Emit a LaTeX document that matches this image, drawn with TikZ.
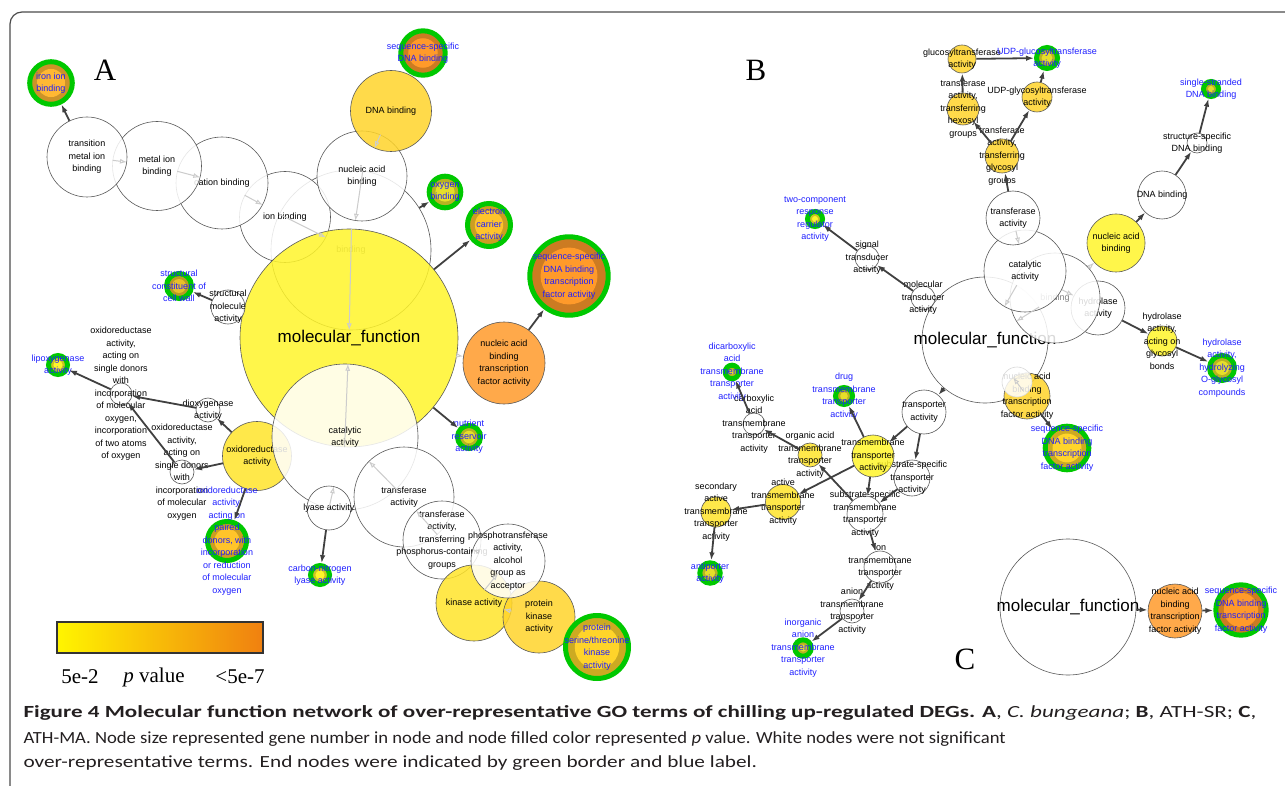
\documentclass[tikz,border=0pt]{standalone}
\usepackage{graphicx}
\usepackage{fontspec}
\setmainfont{Liberation Sans}
\newfontfamily\serifA{Liberation Serif}
\newfontfamily\legende{Carlito}
\usetikzlibrary{arrows.meta,calc}
\definecolor{jaune}{HTML}{FFF52A}
\definecolor{jauneor}{HTML}{FFE42A}
\definecolor{dore}{HTML}{FFD42A}
\definecolor{orangeA}{HTML}{FF9A2A}
\definecolor{orjaune}{HTML}{FFB833}
\definecolor{olive}{HTML}{E6DE2A}
\definecolor{cuivre}{HTML}{E8C02A}
\definecolor{ambre}{HTML}{FFC42A}
\definecolor{vert}{HTML}{00C800}
\definecolor{bleu}{HTML}{1E1EFF}
\definecolor{fonce}{HTML}{404040}
\definecolor{texte}{HTML}{231F20}
\newcommand\etiq{\fontsize{9}{12.5}\selectfont}
\newcommand\grand{\fontsize{17}{20}\selectfont}

\begin{document}
\begin{tikzpicture}[x=1pt,y=-1pt]
\tikzset{noeud/.style={circle, draw=gray!70!black, line width=0.6pt, fill=white, fill opacity=0.85, inner sep=0pt},
  noeudfin/.style={circle, draw=vert, line width=5pt, fill=#1!80!black, inner sep=0pt,
    path picture={\fill[#1] let \p1=(path picture bounding box.east), \p2=(path picture bounding box.center) in (\p2) circle[radius={max(0.8*(\x1-\x2)-3,2)}];}},
  every label/.style={font=\etiq, align=center, inner sep=0pt, text opacity=1, fill opacity=1},
  fin/.style={text=bleu},
  fleche/.style={draw=fonce, line width=1.8pt, -{Latex[length=8pt,width=5.5pt]}},
  flechepale/.style={draw=gray!40, line width=1pt, -{Latex[open,length=7pt,width=5pt]}}}
\useasboundingbox (0,0) rectangle (1285,786);
\clip (0,0) rectangle (1285,786);
\draw[gray!60!black, line width=1.2pt, rounded corners=12pt] (10,12) rectangle (1300,800);

% A
\node[font=\serifA\fontsize{31}{31}\selectfont] (LA) at (105,70) {A};
\node[noeud, minimum size=160pt, label={[text=gray]center:binding}] (A1) at (351,250) {};
\node[noeud, minimum size=91pt, label={center:ion binding}] (A2) at (285,217) {};
\node[noeud, minimum size=92pt, label={center:cation binding}] (A3) at (222,183) {};
\node[noeud, minimum size=89pt, label={center:{metal ion\\binding}}] (A4) at (157,166) {};
\node[noeud, minimum size=80pt, label={center:{transition\\metal ion\\binding}}] (A5) at (87,157) {};
\node[noeudfin=orjaune, minimum size=42.6pt, label={[fin]center:{iron ion\\binding}}] (A6) at (51,83) {};
\node[noeud, minimum size=90pt, label={center:{nucleic acid\\binding}}] (A7) at (362,176) {};
\node[noeud, fill=dore, minimum size=81pt, label={center:DNA binding}] (A8) at (391,111) {};
\node[noeudfin=orangeA, minimum size=44.4pt, label={[fin]center:{sequence-specific\\DNA binding}}] (A9) at (423,53) {};
\node[noeud, fill=jaune, minimum size=218pt, label={[font=\grand]center:molecular\_function}] (A10) at (349,338) {};
\node[noeud, fill=jauneor, minimum size=69pt, label={center:{oxidoreductase\\activity}}] (A11) at (257,456) {};
\node[noeud, minimum size=146pt, label={center:{catalytic\\activity}}] (A12) at (345,437) {};
\node[noeud, minimum size=100pt, label={center:{transferase\\activity}}] (A13) at (404,497) {};
\node[noeud, minimum size=44pt, label={center:lyase activity}] (A14) at (329,508) {};
\node[noeud, minimum size=78pt, label={center:{transferase\\activity,\\transferring\\phosphorus-containing\\groups}}] (A17) at (442,540) {};
\node[noeud, fill=jauneor, minimum size=76pt, label={center:kinase activity}] (A15) at (474,603) {};
\node[noeud, fill=dore, minimum size=72pt, label={center:{protein\\kinase\\activity}}] (A16) at (539,617) {};
\node[noeud, minimum size=74pt, label={center:{phosphotransferase\\activity,\\alcohol\\group as\\acceptor}}] (A18) at (508,561) {};
\node[noeudfin=dore, minimum size=63pt, label={[fin]center:{protein\\serine/threonine\\kinase\\activity}}] (A19) at (597,647) {};
\node[noeud, fill=orangeA, minimum size=82pt, label={center:{nucleic acid\\binding\\transcription\\factor activity}}] (A20) at (504,363) {};
\node[noeudfin=orangeA, minimum size=78.4pt, label={[fin]center:{sequence-specific\\DNA binding\\transcription\\factor activity}}] (A21) at (569,276) {};
\node[noeudfin=olive, minimum size=23pt, label={[fin]center:{nutrient\\reservoir\\activity}}] (A22) at (469,437) {};
\node[noeudfin=ambre, minimum size=43pt, label={[fin]center:{electron\\carrier\\activity}}] (A23) at (489,225) {};
\node[noeudfin=olive, minimum size=31.6pt, label={[fin]center:{oxygen\\binding}}] (A24) at (445,192) {};
\node[noeud, minimum size=34pt, label={center:{structural\\molecule\\activity}}] (A25) at (228,307) {};
\node[noeudfin=cuivre, minimum size=25pt, label={[fin]center:{structural\\constituent of\\cell wall}}] (A26) at (179,286) {};
\node[noeudfin=jaune, minimum size=19pt, label={[fin]center:{lipoxygenase\\activity}}] (A27) at (58,365) {};
\node[noeud, minimum size=22pt, label={center:{oxidoreductase\\activity,\\acting on\\single donors\\with\\incorporation\\of molecular\\oxygen,\\incorporation\\of two atoms\\of oxygen}}] (A28) at (121,394) {};
\node[noeud, minimum size=24pt, label={center:{dioxygenase\\activity}}] (A29) at (208,410) {};
\node[noeud, minimum size=24pt, label={center:{oxidoreductase\\activity,\\acting on\\single donors\\with\\incorporation\\of molecular\\oxygen}}] (A30) at (182,472) {};
\node[noeudfin=ambre, minimum size=39pt, label={[fin]center:{oxidoreductase\\activity,\\acting on\\paired\\donors, with\\incorporation\\or reduction\\of molecular\\oxygen}}] (A31) at (227,541) {};
\node[noeudfin=jaune, minimum size=19pt, label={[fin]center:{carbon-nitrogen\\lyase activity}}] (A32) at (320,575) {};

\draw[flechepale] (A10) -- (A1);
\draw[flechepale] (A10) -- (A12);
\draw[flechepale] (A1) -- (A2);
\draw[flechepale] (A2) -- (A3);
\draw[flechepale] (A3) -- (A4);
\draw[flechepale] (A4) -- (A5);
\draw[flechepale] (A1) -- (A7);
\draw[flechepale] (A7) -- (A8);
\draw[flechepale] (A10) -- (A20);
\draw[flechepale] (A12) -- (A14);
\draw[flechepale] (A12) -- (A13);
\draw[flechepale] (A13) -- (A17);
\draw[flechepale] (A17) -- (A18);
\draw[flechepale] (A18) -- (A15);
\draw[flechepale] (A15) -- (A16);
\draw[fleche] (A5) -- (A6);
\draw[fleche] (A1) -- (A24);
\draw[fleche] (A10) -- (A23);
\draw[fleche] (A20) -- (A21);
\draw[fleche] (A10) -- (A22);
\draw[fleche] (A25) -- (A26);
\draw[fleche] (A11) -- (A29);
\draw[fleche] (A29) -- (A28);
\draw[fleche] (A30) -- (A28);
\draw[fleche] (A11) -- (A30);
\draw[fleche] (A28) -- (A27);
\draw[fleche] (A11) -- (A31);
\draw[fleche] (A14) -- (A32);

% legend
\shade[left color={rgb,255:red,255;green,245;blue,0}, middle color={rgb,255:red,248;green,196;blue,20}, right color={rgb,255:red,240;green,128;blue,16}] (57,622) rectangle (263,653);
\draw[gray!40!black, line width=1.5pt] (57,622) rectangle (263,653);
\node[font=\serifA\fontsize{21}{24}\selectfont] (P1) at (80,677) {5e-2};
\node[font=\serifA\fontsize{21}{24}\selectfont] (P2) at (154,677) {\textit{p} value};
\node[font=\serifA\fontsize{21}{24}\selectfont] (P3) at (240,677) {<5e-7};

% B
\node[font=\serifA\fontsize{31}{31}\selectfont] (LB) at (756,70) {B};
\node[noeud, minimum size=126pt, label={[font=\grand]center:molecular\_function}] (B16) at (985,340) {};
\node[noeud, minimum size=54pt, label={center:{hydrolase\\activity}}] (B9) at (1098,308) {};
\node[noeud, minimum size=90pt, label={[text=gray]center:binding}] (B8) at (1055,298) {};
\node[noeud, minimum size=82pt, label={center:{catalytic\\activity}}] (B7) at (1025,271) {};
\node[noeud, minimum size=54pt, label={center:{transferase\\activity}}] (B6) at (1013,218) {};
\node[noeud, fill=jaune, minimum size=58pt, label={center:{nucleic acid\\binding}}] (B10) at (1116,243) {};
\node[noeud, minimum size=48pt, label={center:DNA binding}] (B11) at (1162,195) {};
\node[noeud, minimum size=20pt, label={center:{structure-specific\\DNA binding}}] (B12) at (1197,143) {};
\node[noeudfin=olive, minimum size=15pt, label={[fin]center:{single-stranded\\DNA binding}}] (B13) at (1211,89) {};
\node[noeud, fill=jaune, minimum size=30pt, label={center:{hydrolase\\activity,\\acting on\\glycosyl\\bonds}}] (B14) at (1162,341) {};
\node[noeudfin=olive, minimum size=25pt, label={[fin]center:{hydrolase\\activity,\\hydrolyzing\\O-glycosyl\\compounds}}] (B15) at (1222,368) {};
\node[noeud, fill=dore, minimum size=34pt, label={center:{transferase\\activity,\\transferring\\glycosyl\\groups}}] (B5) at (1002,156) {};
\node[noeud, fill=dore, minimum size=32pt, label={center:{transferase\\activity,\\transferring\\hexosyl\\groups}}] (B4) at (963,109) {};
\node[noeud, fill=dore, minimum size=30pt, label={center:{UDP-glycosyltransferase\\activity}}] (B3) at (1037,97) {};
\node[noeud, fill=dore, minimum size=28pt, label={center:{glucosyltransferase\\activity}}] (B1) at (962,59) {};
\node[noeudfin=olive, minimum size=21pt, label={[fin]center:{UDP-glucosyltransferase\\activity}}] (B2) at (1047,58) {};
\node[noeud, fill=dore, minimum size=46pt, label={center:{nucleic acid\\binding\\transcription\\factor activity}}] (B17) at (1027,396) {};
\node[noeud, draw=gray!30, minimum size=30pt] (B18) at (1017,382) {};
\node[noeudfin=dore, minimum size=43.6pt, label={[fin]center:{sequence-specific\\DNA binding\\transcription\\factor activity}}] (B19) at (1067,448) {};
\node[noeud, minimum size=24pt, label={center:{molecular\\transducer\\activity}}] (B22) at (923,298) {};
\node[noeud, minimum size=24pt, label={center:{signal\\transducer\\activity}}] (B20) at (867,258) {};
\node[noeudfin=jaune, minimum size=15pt, label={[fin]center:{two-component\\response\\regulator\\activity}}] (B21) at (815,219) {};
\node[noeud, minimum size=44pt, label={center:{transporter\\activity}}] (B23) at (924,412) {};
\node[noeud, minimum size=36pt, label={center:{substrate-specific\\transporter\\activity}}] (B24) at (912,478) {};
\node[noeud, fill=jaune, minimum size=42pt, label={center:{transmembrane\\transporter\\activity}}] (B25) at (873,456) {};
\node[noeudfin=olive, minimum size=17pt, label={[fin]center:{drug\\transmembrane\\transporter\\activity}}] (B26) at (844,396) {};
\node[noeud, minimum size=36pt, label={center:{substrate-specific\\transmembrane\\transporter\\activity}}] (B27) at (865,514) {};
\node[noeud, fill=jauneor, minimum size=24pt, label={center:{organic acid\\transmembrane\\transporter\\activity}}] (B28) at (810,455) {};
\node[noeud, minimum size=22pt, label={center:{carboxylic\\acid\\transmembrane\\transporter\\activity}}] (B29) at (754,424) {};
\node[noeudfin=olive, minimum size=13.6pt, label={[fin]center:{dicarboxylic\\acid\\transmembrane\\transporter\\activity}}] (B30) at (732,372) {};
\node[noeud, fill=jauneor, minimum size=35pt, label={center:{active\\transmembrane\\transporter\\activity}}] (B31) at (783,502) {};
\node[noeud, fill=jauneor, minimum size=30pt, label={center:{secondary\\active\\transmembrane\\transporter\\activity}}] (B32) at (716,512) {};
\node[noeudfin=olive, minimum size=20.4pt, label={[fin]center:{antiporter\\activity}}] (B33) at (710,573) {};
\node[noeud, minimum size=32pt, label={center:{ion\\transmembrane\\transporter\\activity}}] (B34) at (880,567) {};
\node[noeud, minimum size=24pt, label={center:{anion\\transmembrane\\transporter\\activity}}] (B35) at (852,611) {};
\node[noeudfin=olive, minimum size=16.4pt, label={[fin]center:{inorganic\\anion\\transmembrane\\transporter\\activity}}] (B36) at (803,648) {};

\draw[flechepale] (B16) -- (B7);
\draw[flechepale] (B16) -- (B8);
\draw[flechepale] (B7) -- (B9);
\draw[flechepale] (B7) -- (B6);
\draw[flechepale] (B8) -- (B10);
\draw[flechepale] (B16) -- (B17);
\draw[fleche] (B6) -- (B5);
\draw[fleche] (B5) -- (B4);
\draw[fleche] (B5) -- (B3);
\draw[fleche] (B4) -- (B1);
\draw[fleche] (B1) -- (B2);
\draw[fleche] (B3) -- (B2);
\draw[fleche] (B10) -- (B11);
\draw[fleche] (B11) -- (B12);
\draw[fleche] (B12) -- (B13);
\draw[fleche] (B9) -- (B14);
\draw[fleche] (B14) -- (B15);
\draw[fleche] (B17) -- (B19);
\draw[fleche] (B22) -- (B20);
\draw[fleche] (B20) -- (B21);
\draw[fleche] (B16) -- (B23);
\draw[fleche] (B23) -- (B25);
\draw[fleche] (B23) -- (B24);
\draw[fleche] (B25) -- (B26);
\draw[fleche] (B25) -- (B31);
\draw[fleche] (B25) -- (B27);
\draw[fleche] (B24) -- (B27);
\draw[fleche] (B27) -- (B28);
\draw[fleche] (B28) -- (B29);
\draw[fleche] (B29) -- (B30);
\draw[fleche] (B31) -- (B32);
\draw[fleche] (B32) -- (B33);
\draw[fleche] (B27) -- (B34);
\draw[fleche] (B34) -- (B35);
\draw[fleche] (B35) -- (B36);

% C
\node[font=\serifA\fontsize{31}{31}\selectfont] (LC) at (965,659) {C};
\node[noeud, minimum size=136pt, label={[font=\grand]center:molecular\_function}] (C1) at (1068,607) {};
\node[noeud, fill=orangeA, minimum size=54pt, label={center:{nucleic acid\\binding\\transcription\\factor activity}}] (C2) at (1175,611) {};
\node[noeudfin=orangeA, minimum size=50.4pt, label={[fin]center:{sequence-specific\\DNA binding\\transcription\\factor activity}}] (C3) at (1241,610) {};
\draw[fleche] (C1) -- (C2);
\draw[fleche] (C2) -- (C3);

% caption
\node[anchor=west, text=texte, font=\legende\fontsize{17}{20}\selectfont] (T1) at (20,713) {\scalebox{1.357}[1]{\textbf{Figure 4 Molecular function network of over-representative GO terms of chilling up-regulated DEGs. A}, \textit{C. bungeana}; \textbf{B}, ATH-SR; \textbf{C},}};
\node[anchor=west, text=texte, font=\legende\fontsize{17}{20}\selectfont] (T2) at (20,739) {\scalebox{1.097}[1]{ATH-MA. Node size represented gene number in node and node filled color represented \textit{p} value. White nodes were not significant}};
\node[anchor=west, text=texte, font=\legende\fontsize{17}{20}\selectfont] (T3) at (20,763) {\scalebox{1.25}[1]{over-representative terms. End nodes were indicated by green border and blue label.}};
\end{tikzpicture}
\end{document}
